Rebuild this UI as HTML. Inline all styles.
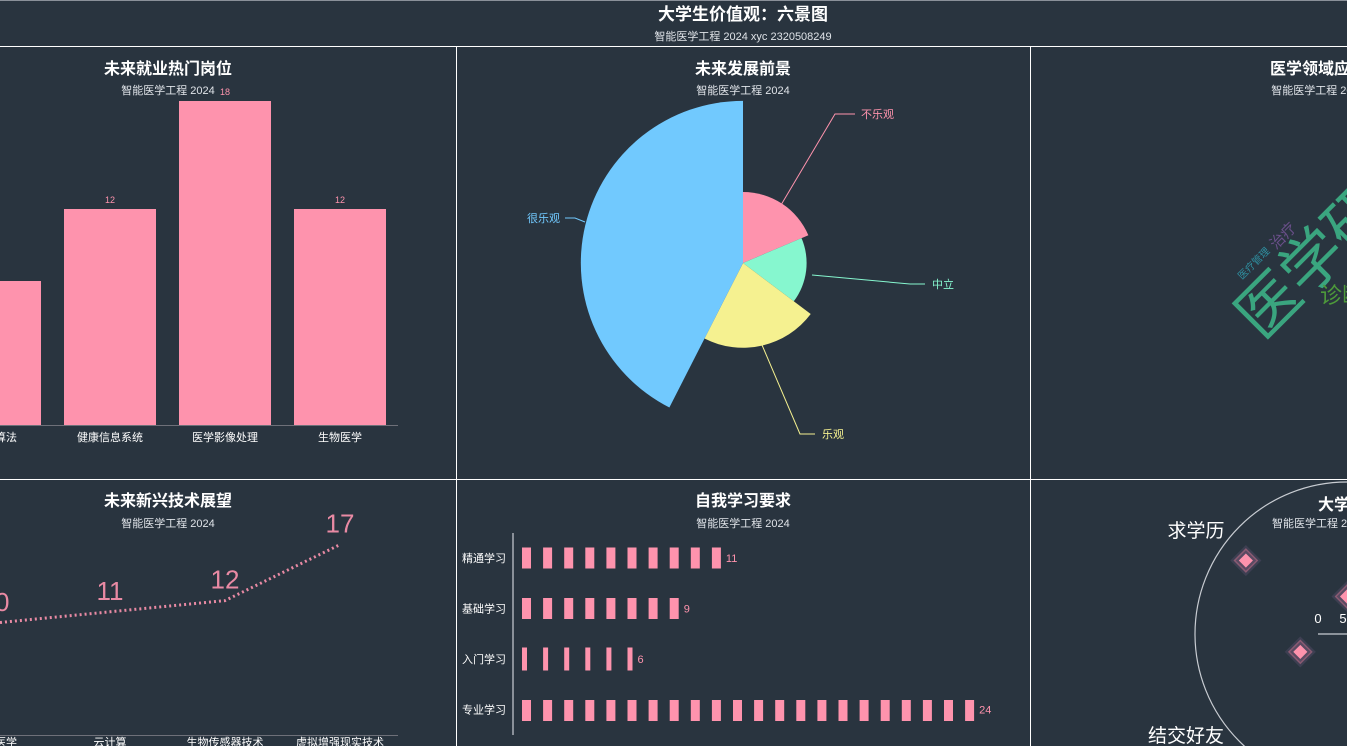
<!DOCTYPE html>
<html><head><meta charset="utf-8"><style>
html,body{margin:0;padding:0;background:#29343f;overflow:hidden;width:1347px;height:746px}
svg{display:block;font-family:"Liberation Sans","Noto Sans CJK SC",sans-serif}
</style></head><body>
<svg id="s" width="1347" height="746" viewBox="0 0 1347 746">
<rect x="0" y="0" width="1347" height="746" fill="#29343f"/>
<line x1="0" y1="0.5" x2="1347" y2="0.5" stroke="#8a9099" stroke-width="1"/>
<line x1="0" y1="46.5" x2="1347" y2="46.5" stroke="#ffffff" stroke-width="1"/>
<line x1="0" y1="479.5" x2="1347" y2="479.5" stroke="#ffffff" stroke-width="1"/>
<line x1="456.5" y1="47" x2="456.5" y2="746" stroke="#ffffff" stroke-width="1"/>
<line x1="1030.5" y1="47" x2="1030.5" y2="746" stroke="#ffffff" stroke-width="1"/>
<text x="743" y="20" text-anchor="middle" fill="#fff" font-size="17" font-weight="bold">大学生价值观：六景图</text>
<text x="743" y="40" text-anchor="middle" fill="#dfe3e8" font-size="11">智能医学工程 2024 xyc 2320508249</text>

<text x="168" y="74" text-anchor="middle" fill="#fff" font-size="16" font-weight="bold">未来就业热门岗位</text>
<text x="168" y="94" text-anchor="middle" fill="#dfe3e8" font-size="11">智能医学工程 2024</text>
<text x="743" y="74" text-anchor="middle" fill="#fff" font-size="16" font-weight="bold">未来发展前景</text>
<text x="743" y="94" text-anchor="middle" fill="#dfe3e8" font-size="11">智能医学工程 2024</text>
<text x="1318" y="74" text-anchor="middle" fill="#fff" font-size="16" font-weight="bold">医学领域应用</text>
<text x="1318" y="94" text-anchor="middle" fill="#dfe3e8" font-size="11">智能医学工程 2024</text>
<text x="168" y="506" text-anchor="middle" fill="#fff" font-size="16" font-weight="bold">未来新兴技术展望</text>
<text x="168" y="527" text-anchor="middle" fill="#dfe3e8" font-size="11">智能医学工程 2024</text>
<text x="743" y="506" text-anchor="middle" fill="#fff" font-size="16" font-weight="bold">自我学习要求</text>
<text x="743" y="527" text-anchor="middle" fill="#dfe3e8" font-size="11">智能医学工程 2024</text>

<g id="bar"></g>
<g id="pie"></g>
<g id="wc">
<text transform="translate(1262,342) rotate(-45)" fill="#3aa57f" font-size="62">医学研究</text>
<text transform="translate(1320,303) rotate(0)" fill="#4d9a3a" font-size="22">诊断</text>
<text transform="translate(1276,250) rotate(-45)" fill="#6a4f8a" font-size="15">治疗</text>
<text transform="translate(1242,280) rotate(-45)" fill="#2f8fa0" font-size="10">医疗管理</text>
</g>
<g id="line"></g>
<g id="pict"></g>
<g id="polar">
<circle cx="1347" cy="634" r="152" fill="none" stroke="#c8ccd2" stroke-width="1.2"/>
<text x="1318" y="510" fill="#fff" font-size="16" font-weight="bold">大学目标</text>
<text x="1272" y="527" fill="#dfe3e8" font-size="11">智能医学工程 2024</text>
<text x="1196" y="537" text-anchor="middle" fill="#fff" font-size="19">求学历</text>
<text x="1186" y="742" text-anchor="middle" fill="#fff" font-size="19">结交好友</text>
<line x1="1318" y1="634" x2="1347" y2="634" stroke="#c8ccd2" stroke-width="1.2"/>
<text x="1318" y="623" text-anchor="middle" fill="#fff" font-size="13">0</text>
<text x="1343" y="623" text-anchor="middle" fill="#fff" font-size="13">5</text>
</g>
</svg>
<script>
const NS="http://www.w3.org/2000/svg";
function mk(p,t,a){const e=document.createElementNS(NS,t);for(const k in a)e.setAttribute(k,a[k]);p.appendChild(e);return e;}
const PINK="#fe93ad";

// Bar chart data
const barCats=["智能算法","健康信息系统","医学影像处理","生物医学"];
const barVals=[8,12,18,12];
// Line chart data
const lineCats=["精准医学","云计算","生物传感器技术","虚拟增强现实技术"];
const lineVals=[10,11,12,17];
// Pie data
const pieCats=["不乐观","中立","乐观","很乐观"];
const pieVals=[67,60,80,153];
// Pictorial data
const pictCats=["精通学习","基础学习","入门学习","专业学习"];
const pictVals=[11,9,6,24];
// Polar data
const polarVals=[10,4,3];
const polarAngles=[144,201,90];

// Bar chart
(function(){
 const g=document.getElementById('bar');
 const x=i=>-5+i*115, y=v=>425-v*18;
 mk(g,'line',{x1:-60,y1:425.5,x2:398,y2:425.5,stroke:'#6e7079',});
 barVals.forEach((v,i)=>{
  const r=mk(g,'rect',{x:x(i)-46,y:y(v),width:92,height:425-y(v),fill:PINK});
  
  
  const t=mk(g,'text',{x:x(i),y:y(v)-6,'text-anchor':'middle',fill:PINK,'font-size':9});
  t.textContent=v;
  
  
  const l=mk(g,'text',{x:x(i),y:441,'text-anchor':'middle',fill:'#fff','font-size':11});
  l.textContent=barCats[i];
  
  
 });
})();

// Line chart
(function(){
 const g=document.getElementById('line');
 const x=i=>-5+i*115, y=v=>735-v*11.2;
 mk(g,'line',{x1:-60,y1:735.5,x2:398,y2:735.5,stroke:'#6e7079',});
 const p=mk(g,'polyline',{points:lineVals.map((v,i)=>x(i)+','+y(v)).join(' '),fill:'none',stroke:'#e98aa4','stroke-width':3,'stroke-dasharray':'2,3'});
 
 
 lineVals.forEach((v,i)=>{
  const t=mk(g,'text',{x:x(i),y:y(v)-12,'text-anchor':'middle',fill:'#e98aa4','font-size':26});
  t.textContent=v;
  
  
  const l=mk(g,'text',{x:x(i),y:746,'text-anchor':'middle',fill:'#fff','font-size':11});
  l.textContent=lineCats[i];
  
  
 });
})();

// Pie (rose)
(function(){
 const g=document.getElementById('pie');
 const cx=743,cy=263;
 const cols=["#fe93ad","#86f7cf","#f5f190","#71c9fe"];
 const total=pieVals.reduce((a,b)=>a+b,0);
 const rad=v=>v*1.06;
 const lbl=[{pts:[[781,205],[835,114],[855,114]],tx:861,ty:118,a:'start'},
            {pts:[[812,275],[910,284],[925,284]],tx:932,ty:288,a:'start'},
            {pts:[[762,345],[800,434],[815,434]],tx:822,ty:438,a:'start'},
            {pts:[[585,222],[575,218],[565,218]],tx:560,ty:222,a:'end'}];
 let a0=0;
 pieVals.forEach((v,i)=>{
  const a1=a0+v/total*360, r=rad(v);
  const P=a=>[cx+r*Math.sin(a*Math.PI/180),cy-r*Math.cos(a*Math.PI/180)];
  const s=P(a0),e=P(a1);
  const d=`M${cx},${cy}L${s[0]},${s[1]}A${r},${r} 0 ${a1-a0>180?1:0} 1 ${e[0]},${e[1]}Z`;
  const pa=mk(g,'path',{d:d,fill:cols[i]});
  
  
  const L=lbl[i];
  const pl=mk(g,'polyline',{points:L.pts.map(q=>q.join(',')).join(' '),fill:'none',stroke:cols[i],'stroke-width':1});
  
  
  const t=mk(g,'text',{x:L.tx,y:L.ty,'text-anchor':L.a,fill:cols[i],'font-size':11});
  t.textContent=pieCats[i];
  
  
  a0=a1;
 });
})();

// Pictorial bar
(function(){
 const g=document.getElementById('pict');
 const x0=522, step=21.1;
 const y=i=>558+i*50.5;
 mk(g,'line',{x1:513,y1:533,x2:513,y2:735,stroke:'#8a9099','stroke-width':2,});
 pictVals.forEach((v,i)=>{
  const n=Math.max(1,Math.round(v*0.92));
  const w=v<8?5:9, h=v<8?23:21;
  for(let k=0;k<n;k++){
   const r=mk(g,'rect',{x:x0+k*step,y:y(i)+(i==3?1:0)-h/2,width:w,height:h,fill:PINK});
   
   
  }
  const t=mk(g,'text',{x:x0+(n-1)*step+w+5,y:y(i)+4,fill:PINK,'font-size':11});
  t.textContent=v;
  
  
  const l=mk(g,'text',{x:506,y:y(i)+4,'text-anchor':'end',fill:'#fff','font-size':11});
  l.textContent=pictCats[i];
  
  
 });
})();

// Polar scatter
(function(){
 const g=document.getElementById('polar');
 const cx=1347,cy=634,scale=12.5;
 polarVals.forEach((v,i)=>{
  const a=polarAngles[i]*Math.PI/180, r=v*scale;
  const px=cx+r*Math.cos(a), py=cy-r*Math.sin(a);
  [{s:22,f:'#3d3f52',st:'none'},{s:16,f:'#5a4a62',st:'#8a5a72'},{s:10,f:PINK,st:'none'}].forEach((o,j)=>{
   const d=mk(g,'rect',{x:px-o.s/2,y:py-o.s/2,width:o.s,height:o.s,transform:`rotate(45 ${px} ${py})`,fill:o.f,stroke:o.st,'stroke-width':1.5});
   
   
  });
 });
})();
</script>
</body></html>
